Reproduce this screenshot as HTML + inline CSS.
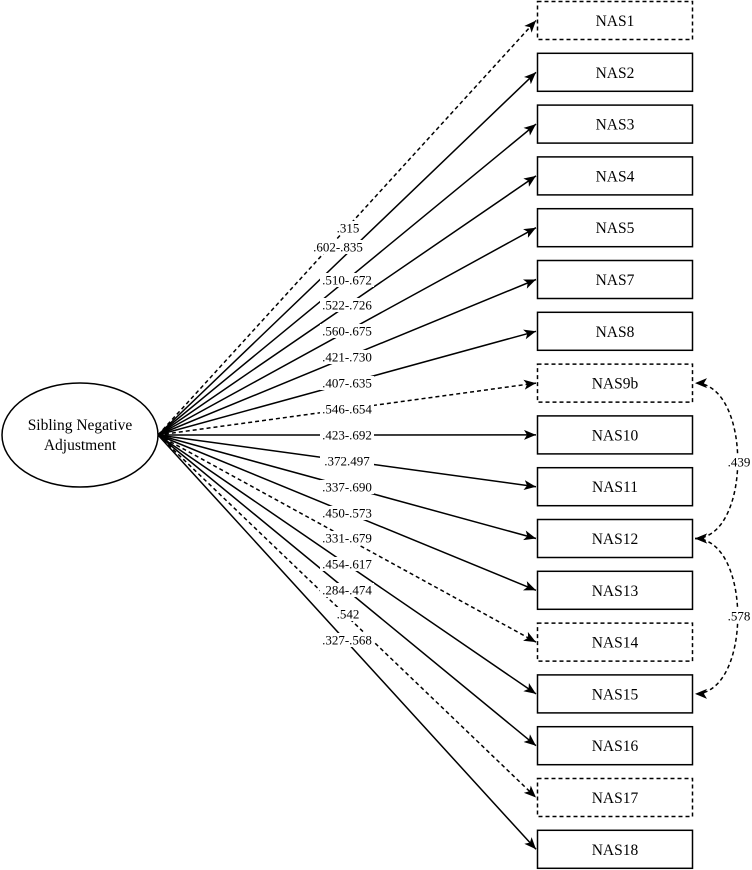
<!DOCTYPE html>
<html><head><meta charset="utf-8"><style>
html,body{margin:0;padding:0;background:#fff;}
svg{display:block;}
text{font-family:"Liberation Serif",serif;font-size:13px;fill:#000;}
.b{font-size:15.5px;}
.e{font-size:15.5px;}
</style></head><body>
<svg width="752" height="870" viewBox="0 0 752 870" xmlns="http://www.w3.org/2000/svg">
<defs>
<marker id="a" viewBox="0 0 12 10" refX="12" refY="5" markerWidth="12" markerHeight="10" markerUnits="userSpaceOnUse" orient="auto-start-reverse">
<path d="M0,0 L12,5 L0,10 L3,5 z" fill="#000"/>
</marker>
</defs>
<ellipse cx="80" cy="435" rx="78" ry="52" fill="#fff" stroke="#000" stroke-width="1.5"/>
<text class="e" x="80" y="430" text-anchor="middle">Sibling Negative</text>
<text class="e" x="80" y="450" text-anchor="middle">Adjustment</text>
<g stroke="#000" stroke-width="1.5" fill="none" marker-end="url(#a)">
<line x1="158" y1="435" x2="536" y2="20.5" stroke-dasharray="4,3"/>
<line x1="158" y1="435" x2="536" y2="72.3"/>
<line x1="158" y1="435" x2="536" y2="124.1"/>
<line x1="158" y1="435" x2="536" y2="175.9"/>
<line x1="158" y1="435" x2="536" y2="227.7"/>
<line x1="158" y1="435" x2="536" y2="279.5"/>
<line x1="158" y1="435" x2="536" y2="331.3"/>
<line x1="158" y1="435" x2="536" y2="383.1" stroke-dasharray="4,3"/>
<line x1="158" y1="435" x2="536" y2="434.9"/>
<line x1="158" y1="435" x2="536" y2="486.7"/>
<line x1="158" y1="435" x2="536" y2="538.5"/>
<line x1="158" y1="435" x2="536" y2="590.3"/>
<line x1="158" y1="435" x2="536" y2="642.1" stroke-dasharray="4,3"/>
<line x1="158" y1="435" x2="536" y2="693.9"/>
<line x1="158" y1="435" x2="536" y2="745.7"/>
<line x1="158" y1="435" x2="536" y2="797.5" stroke-dasharray="4,3"/>
<line x1="158" y1="435" x2="536" y2="849.3"/>
<path d="M695,538.5 C752,538.5 752,383.1 695,383.1" stroke-dasharray="4,3" marker-start="url(#a)"/>
<path d="M695,538.5 C752,538.5 752,693.9 695,693.9" stroke-dasharray="4,3" marker-start="url(#a)"/>
</g>
<g fill="#fff" stroke="#000" stroke-width="1.5">
<rect x="537.5" y="1.5" width="155" height="38" stroke-dasharray="4,3"/>
<rect x="537.5" y="53.3" width="155" height="38"/>
<rect x="537.5" y="105.1" width="155" height="38"/>
<rect x="537.5" y="156.9" width="155" height="38"/>
<rect x="537.5" y="208.7" width="155" height="38"/>
<rect x="537.5" y="260.5" width="155" height="38"/>
<rect x="537.5" y="312.3" width="155" height="38"/>
<rect x="537.5" y="364.1" width="155" height="38" stroke-dasharray="4,3"/>
<rect x="537.5" y="415.9" width="155" height="38"/>
<rect x="537.5" y="467.7" width="155" height="38"/>
<rect x="537.5" y="519.5" width="155" height="38"/>
<rect x="537.5" y="571.3" width="155" height="38"/>
<rect x="537.5" y="623.1" width="155" height="38" stroke-dasharray="4,3"/>
<rect x="537.5" y="674.9" width="155" height="38"/>
<rect x="537.5" y="726.7" width="155" height="38"/>
<rect x="537.5" y="778.5" width="155" height="38" stroke-dasharray="4,3"/>
<rect x="537.5" y="830.3" width="155" height="38"/>
</g>
<g text-anchor="middle">
<text class="b" x="615" y="26">NAS1</text>
<text class="b" x="615" y="77.8">NAS2</text>
<text class="b" x="615" y="129.6">NAS3</text>
<text class="b" x="615" y="181.4">NAS4</text>
<text class="b" x="615" y="233.2">NAS5</text>
<text class="b" x="615" y="285">NAS7</text>
<text class="b" x="615" y="336.8">NAS8</text>
<text class="b" x="615" y="388.6">NAS9b</text>
<text class="b" x="615" y="440.4">NAS10</text>
<text class="b" x="615" y="492.2">NAS11</text>
<text class="b" x="615" y="544">NAS12</text>
<text class="b" x="615" y="595.8">NAS13</text>
<text class="b" x="615" y="647.6">NAS14</text>
<text class="b" x="615" y="699.4">NAS15</text>
<text class="b" x="615" y="751.2">NAS16</text>
<text class="b" x="615" y="803">NAS17</text>
<text class="b" x="615" y="854.8">NAS18</text>
</g>
<g fill="#fff">
<rect x="333" y="221" width="30" height="14"/>
<rect x="311" y="240" width="54" height="14"/>
<rect x="320" y="273" width="54" height="14"/>
<rect x="320" y="298" width="54" height="14"/>
<rect x="320" y="324" width="54" height="14"/>
<rect x="320" y="350" width="54" height="14"/>
<rect x="320" y="376" width="54" height="14"/>
<rect x="320" y="402" width="54" height="14"/>
<rect x="320" y="428" width="54" height="14"/>
<rect x="320" y="454" width="54" height="14"/>
<rect x="320" y="480" width="54" height="14"/>
<rect x="320" y="506" width="54" height="14"/>
<rect x="320" y="531" width="54" height="14"/>
<rect x="320" y="557" width="54" height="14"/>
<rect x="320" y="583" width="54" height="14"/>
<rect x="334" y="607" width="28" height="14"/>
<rect x="320" y="633" width="54" height="14"/>
<rect x="727" y="455" width="24" height="14"/>
<rect x="727" y="609" width="24" height="14"/>
</g>
<g text-anchor="middle">
<text x="348" y="232.5">.315</text>
<text x="338" y="251.5">.602-.835</text>
<text x="347" y="284.5">.510-.672</text>
<text x="347" y="309.5">.522-.726</text>
<text x="347" y="335.5">.560-.675</text>
<text x="347" y="361.5">.421-.730</text>
<text x="347" y="387.5">.407-.635</text>
<text x="347" y="413.5">.546-.654</text>
<text x="347" y="439.5">.423-.692</text>
<text x="347" y="465.5">.372.497</text>
<text x="347" y="491.5">.337-.690</text>
<text x="347" y="517.5">.450-.573</text>
<text x="347" y="542.5">.331-.679</text>
<text x="347" y="568.5">.454-.617</text>
<text x="347" y="594.5">.284-.474</text>
<text x="348" y="618.5">.542</text>
<text x="347" y="644.5">.327-.568</text>
<text x="739" y="466.5">.439</text>
<text x="739" y="620.5">.578</text>
</g>
</svg>
</body></html>
